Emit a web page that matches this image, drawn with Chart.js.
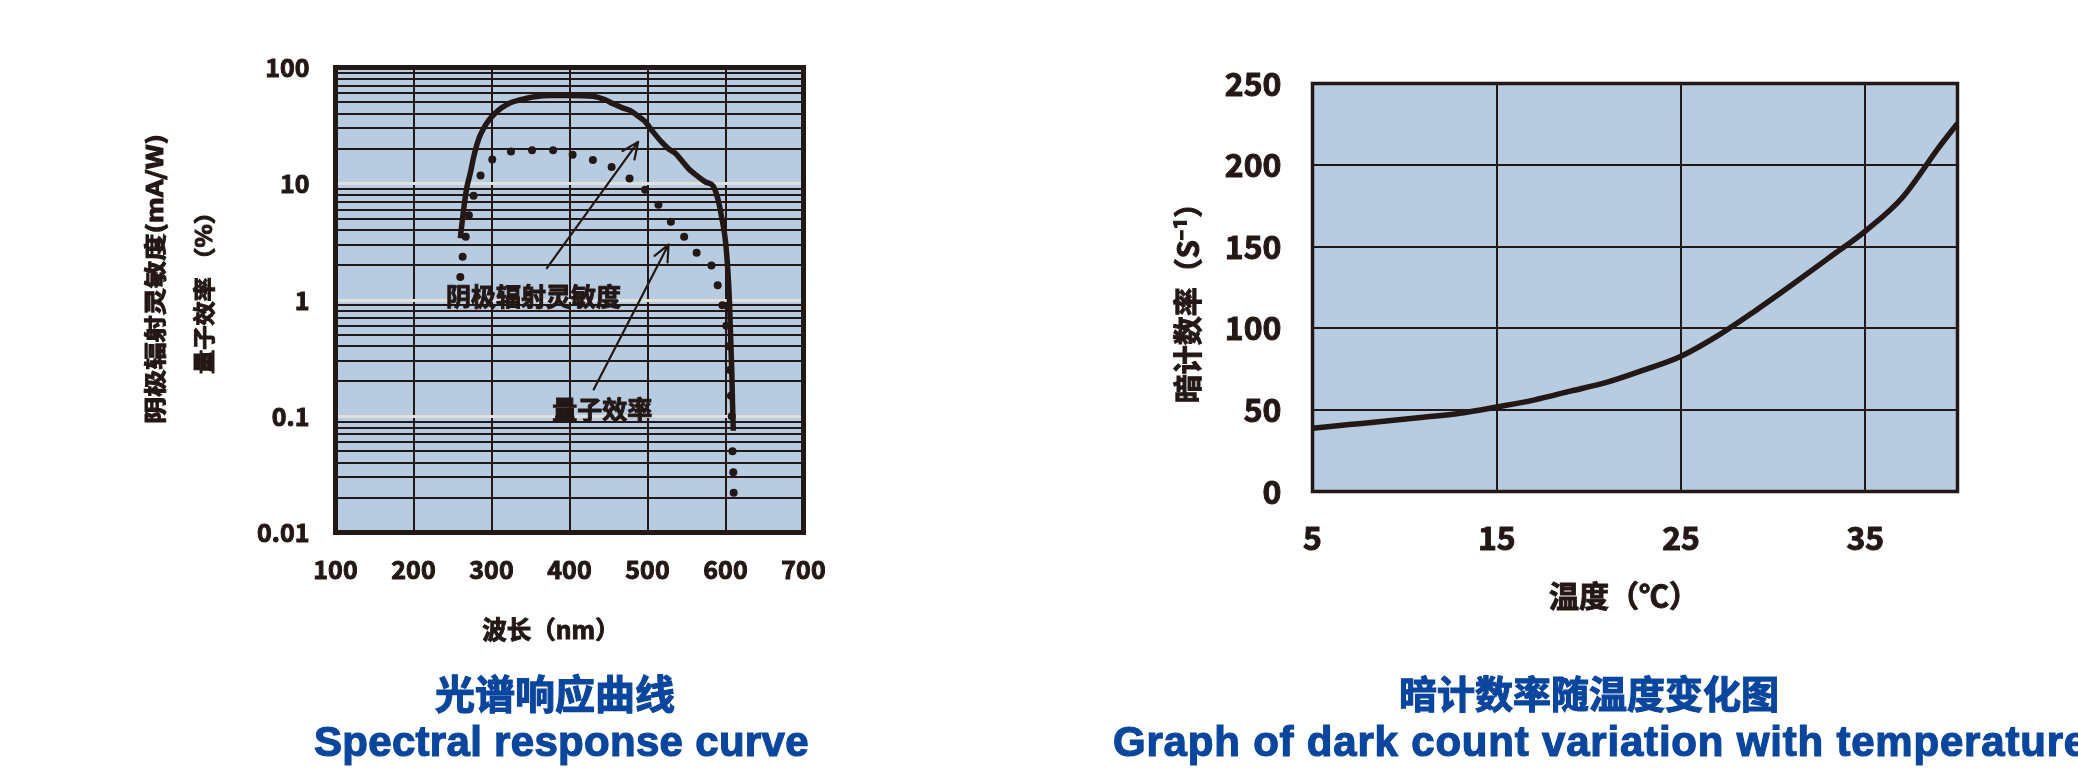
<!DOCTYPE html>
<html>
<head>
<meta charset="utf-8">
<script src="https://cdn.jsdelivr.net/npm/chart.js@4.4.1/dist/chart.umd.min.js"></script>
<style>
  html, body { margin: 0; padding: 0; background: #fff; }
  body { position: relative; width: 2078px; height: 784px; overflow: hidden; }
  #boxA { position: absolute; left: 0; top: 0; width: 1040px; height: 784px; }
  #boxB { position: absolute; left: 1040px; top: 0; width: 1038px; height: 784px; }
  .cap { position: absolute; color: #0a469d; font-weight: bold; white-space: nowrap; line-height: 1;
         -webkit-text-stroke: 1.2px #0a469d; }
  .zh { font-family: "Noto Sans CJK SC", sans-serif; transform: translate(-50%, -50%); }
  .en { font-family: "Liberation Sans", Arial, sans-serif; font-size: 42px; transform: translateY(-50%); }
</style>
</head>
<body>
<div id="boxA"><canvas id="spectral" width="1040" height="784"></canvas></div>
<div id="boxB"><canvas id="darkCount" width="1038" height="784"></canvas></div>

<div class="cap zh" style="left:555px; top:692px; font-size:40px;">光谱响应曲线</div>
<div class="cap en" style="left:314px; top:742px; letter-spacing:0.3px;">Spectral response curve</div>
<div class="cap zh" style="left:1589px; top:692px; font-size:38px;">暗计数率随温度变化图</div>
<div class="cap en" style="left:1113px; top:742px; letter-spacing:0.8px;">Graph of dark count variation with temperature</div>

<script>
// --- spectral response data ---
const waveTicks = [100, 200, 300, 400, 500, 600, 700];
const decadeValues = [0.01, 0.1, 1, 10, 100];
const decadeLabels = ['0.01', '0.1', '1', '10', '100'];

// cathode radiant sensitivity (mA/W)
const sensWave = [260, 264, 268, 273, 278, 284, 290, 296, 304, 313, 325, 336, 355, 376, 400, 430, 445, 456, 468, 478, 486, 496, 507, 518, 527, 536, 545, 553, 563, 575, 584, 590, 595, 600, 603, 605, 606.5, 608, 609, 610];
const sensValue = [3.4, 5.8, 9, 12.5, 18, 24.7, 30, 34.7, 40, 45, 50, 52.6, 56, 57.5, 57.5, 56.5, 53, 48.7, 45, 42.6, 39, 34.7, 28, 22.9, 20, 18.2, 15.5, 13.4, 11.8, 10.3, 9.6, 7.5, 5.2, 3.2, 1.8, 1.0, 0.5, 0.25, 0.13, 0.075];

// quantum efficiency (%)
const qeWave = [260, 263, 267, 271, 277, 286, 301, 325, 352, 379, 404, 430, 454, 477, 497, 514, 530, 547, 563, 582, 590, 596, 601, 604, 605.5, 607, 608, 609, 610, 610.5];
const qeValue = [1.58, 2.36, 3.5, 5.35, 7.9, 11.8, 16.2, 18.9, 19.4, 19.4, 17.8, 16, 13.9, 11.1, 8.9, 6.6, 4.7, 3.5, 2.55, 1.98, 1.34, 0.9, 0.6, 0.4, 0.25, 0.15, 0.1, 0.05, 0.033, 0.022];

// callout arrows and their labels
const noteText = ['阴极辐射灵敏度', '量子效率'];
const noteX = [354, 442];
const noteY = [1.08, 0.114];
const arrowFromX = [371, 431];
const arrowFromY = [1.88, 0.17];
const arrowToX = [488, 527];
const arrowToY = [22.9, 3.0];

// --- dark count data ---
const tempTicks = [5, 15, 25, 35];
const countTicks = [0, 50, 100, 150, 200, 250];
const tempValue = [5, 7, 9, 11, 13, 15, 17, 19, 21, 23, 25, 27, 29, 31, 33, 35, 37, 39, 40];
const countValue = [38.8, 41, 43.2, 45.5, 48, 51.8, 56, 61.5, 67, 74.5, 82.9, 95.5, 110.5, 126.5, 143, 159.6, 180, 211, 225.5];

const INK = '#231815';
Chart.defaults.font.family = '"Noto Sans CJK SC", sans-serif';
Chart.defaults.color = INK;

// fills the plot area and strokes a frame around it
const frame = {
    id: 'frame',
    beforeDraw(chart, args, opts) {
        const { ctx, chartArea: a } = chart;
        ctx.save();
        ctx.fillStyle = opts.fill;
        ctx.fillRect(a.left, a.top, a.right - a.left, a.bottom - a.top);
        ctx.restore();
    },
    afterDraw(chart, args, opts) {
        const { ctx, chartArea: a } = chart;
        ctx.save();
        ctx.strokeStyle = INK;
        ctx.lineWidth = opts.width;
        ctx.strokeRect(a.left, a.top, a.right - a.left, a.bottom - a.top);
        ctx.restore();
    }
};

// fill + thin stroke so the bold CJK face looks as heavy as the original
function heavyText(ctx, text, x, y) {
    ctx.lineWidth = 1;
    ctx.strokeStyle = INK;
    ctx.fillText(text, x, y);
    ctx.strokeText(text, x, y);
}

// axis titles, placed by hand (some are stretched along the text)
const axisText = {
    id: 'axisText',
    afterDraw(chart, args, opts) {
        const ctx = chart.ctx;
        opts.items.forEach(it => {
            ctx.save();
            ctx.font = it.font;
            ctx.fillStyle = INK;
            ctx.textAlign = 'center';
            ctx.textBaseline = 'middle';
            ctx.translate(it.x, it.y);
            if (it.rotate) ctx.rotate(-Math.PI / 2);
            if (it.len) {
                const w = ctx.measureText(it.text).width;
                ctx.scale(it.len / w, 1);
            }
            heavyText(ctx, it.text, 0, 0);
            ctx.restore();
        });
    }
};

// arrows pointing at the two curves
const notes = {
    id: 'notes',
    afterDatasetsDraw(chart) {
        const { ctx, scales: { x, y } } = chart;
        ctx.save();
        ctx.strokeStyle = INK;
        ctx.lineWidth = 2.2;
        ctx.lineCap = 'round';
        arrowFromX.forEach((fx, i) => {
            const x0 = x.getPixelForValue(fx), y0 = y.getPixelForValue(arrowFromY[i]);
            const x1 = x.getPixelForValue(arrowToX[i]), y1 = y.getPixelForValue(arrowToY[i]);
            const ang = Math.atan2(y1 - y0, x1 - x0);
            ctx.beginPath();
            ctx.moveTo(x0, y0);
            ctx.lineTo(x1, y1);
            [-1, 1].forEach(s => {
                ctx.moveTo(x1, y1);
                ctx.lineTo(x1 - 18 * Math.cos(ang + s * 0.42), y1 - 18 * Math.sin(ang + s * 0.42));
            });
            ctx.stroke();
        });
        ctx.fillStyle = INK;
        ctx.font = 'bold 25px "Noto Sans CJK SC"';
        ctx.textAlign = 'center';
        ctx.textBaseline = 'middle';
        noteText.forEach((t, i) => {
            heavyText(ctx, t, x.getPixelForValue(noteX[i]), y.getPixelForValue(noteY[i]));
        });
        ctx.restore();
    }
};

function isDecade(v) {
    return decadeValues.some(d => Math.abs(d - v) < d * 1e-6);
}

// every 1..9 step of each decade gets a grid line
const logGrid = [];
decadeValues.slice(0, -1).forEach(d => {
    for (let k = 1; k < 10; k++) logGrid.push(+(d * k).toPrecision(3));
});
logGrid.push(100);

const tickStyle = size => ({
    autoSkip: false,
    font: { size: size, weight: 'bold' },
    textStrokeColor: INK,
    textStrokeWidth: 1
});

new Chart(document.getElementById('spectral'), {
    type: 'scatter',
    data: {
        datasets: [{
            label: '阴极辐射灵敏度',
            data: sensWave.map((w, i) => ({ x: w, y: sensValue[i] })),
            showLine: true,
            borderColor: INK,
            borderWidth: 5.5,
            pointRadius: 0,
            cubicInterpolationMode: 'monotone',
            order: 0
        }, {
            label: '量子效率',
            data: qeWave.map((w, i) => ({ x: w, y: qeValue[i] })),
            showLine: false,
            backgroundColor: INK,
            borderWidth: 0,
            pointRadius: 4,
            order: 1
        }]
    },
    options: {
        responsive: false,
        animation: false,
        layout: { padding: { left: 0, top: 67.5, right: 236.5, bottom: 131.5 } },
        plugins: {
            legend: { display: false },
            tooltip: { enabled: false },
            frame: { fill: '#b8cce1', width: 5 },
            axisText: {
                items: [
                    { text: '阴极辐射灵敏度(mA/W)', x: 155, y: 279, rotate: true, font: 'bold 22px "Noto Sans CJK SC"', len: 290 },
                    { text: '量子效率 （%）', x: 204, y: 287, rotate: true, font: 'bold 22px "Noto Sans CJK SC"', len: 174 },
                    { text: '波长（nm）', x: 551, y: 630, font: 'bold 24.5px "Noto Sans CJK SC"' }
                ]
            }
        },
        scales: {
            x: {
                type: 'linear',
                min: 100,
                max: 700,
                afterBuildTicks: s => { s.ticks = waveTicks.map(v => ({ value: v })); },
                afterFit: s => { s.height = 120; },
                ticks: Object.assign(tickStyle(25), { padding: 21.5 }),
                grid: { color: INK, lineWidth: 2, drawTicks: false },
                border: { display: false }
            },
            y: {
                type: 'logarithmic',
                min: 0.01,
                max: 100,
                afterBuildTicks: s => { s.ticks = logGrid.map(v => ({ value: v })); },
                afterFit: s => { s.width = 335.5; },
                ticks: Object.assign(tickStyle(25), {
                    padding: 26,
                    callback: v => {
                        const i = decadeValues.findIndex(d => Math.abs(d - v) < d * 1e-6);
                        return i >= 0 ? decadeLabels[i] : '';
                    }
                }),
                grid: {
                    drawTicks: false,
                    color: c => (isDecade(c.tick.value) ? '#e2e0da' : INK),
                    lineWidth: c => (isDecade(c.tick.value) ? 3 : 2)
                },
                border: { display: false }
            }
        }
    },
    plugins: [frame, notes, axisText]
});

new Chart(document.getElementById('darkCount'), {
    type: 'scatter',
    data: {
        datasets: [{
            label: '暗计数率',
            data: tempValue.map((t, i) => ({ x: t, y: countValue[i] })),
            showLine: true,
            borderColor: INK,
            borderWidth: 5.5,
            pointRadius: 0,
            cubicInterpolationMode: 'monotone'
        }]
    },
    options: {
        responsive: false,
        animation: false,
        layout: { padding: { left: 0, top: 83.5, right: 120.5, bottom: 152.5 } },
        plugins: {
            legend: { display: false },
            tooltip: { enabled: false },
            frame: { fill: '#b8cce1', width: 3.5 },
            axisText: {
                items: [
                    { text: '暗计数率（S⁻¹）', x: 148, y: 296, rotate: true, font: 'bold 29px "Noto Sans CJK SC"' },
                    { text: '温度（℃）', x: 584, y: 596, font: 'bold 30px "Noto Sans CJK SC"' }
                ]
            }
        },
        scales: {
            x: {
                type: 'linear',
                min: 5,
                max: 40,
                afterBuildTicks: s => { s.ticks = tempTicks.map(v => ({ value: v })); },
                afterFit: s => { s.height = 140; },
                ticks: Object.assign(tickStyle(32), { padding: 27 }),
                grid: { color: INK, lineWidth: 2, drawTicks: false },
                border: { display: false }
            },
            y: {
                type: 'linear',
                min: 0,
                max: 250,
                afterBuildTicks: s => { s.ticks = countTicks.map(v => ({ value: v })); },
                afterFit: s => { s.width = 272.5; },
                ticks: Object.assign(tickStyle(32), { padding: 31 }),
                grid: { color: INK, lineWidth: 2, drawTicks: false },
                border: { display: false }
            }
        }
    },
    plugins: [frame, axisText]
});
</script>
</body>
</html>
